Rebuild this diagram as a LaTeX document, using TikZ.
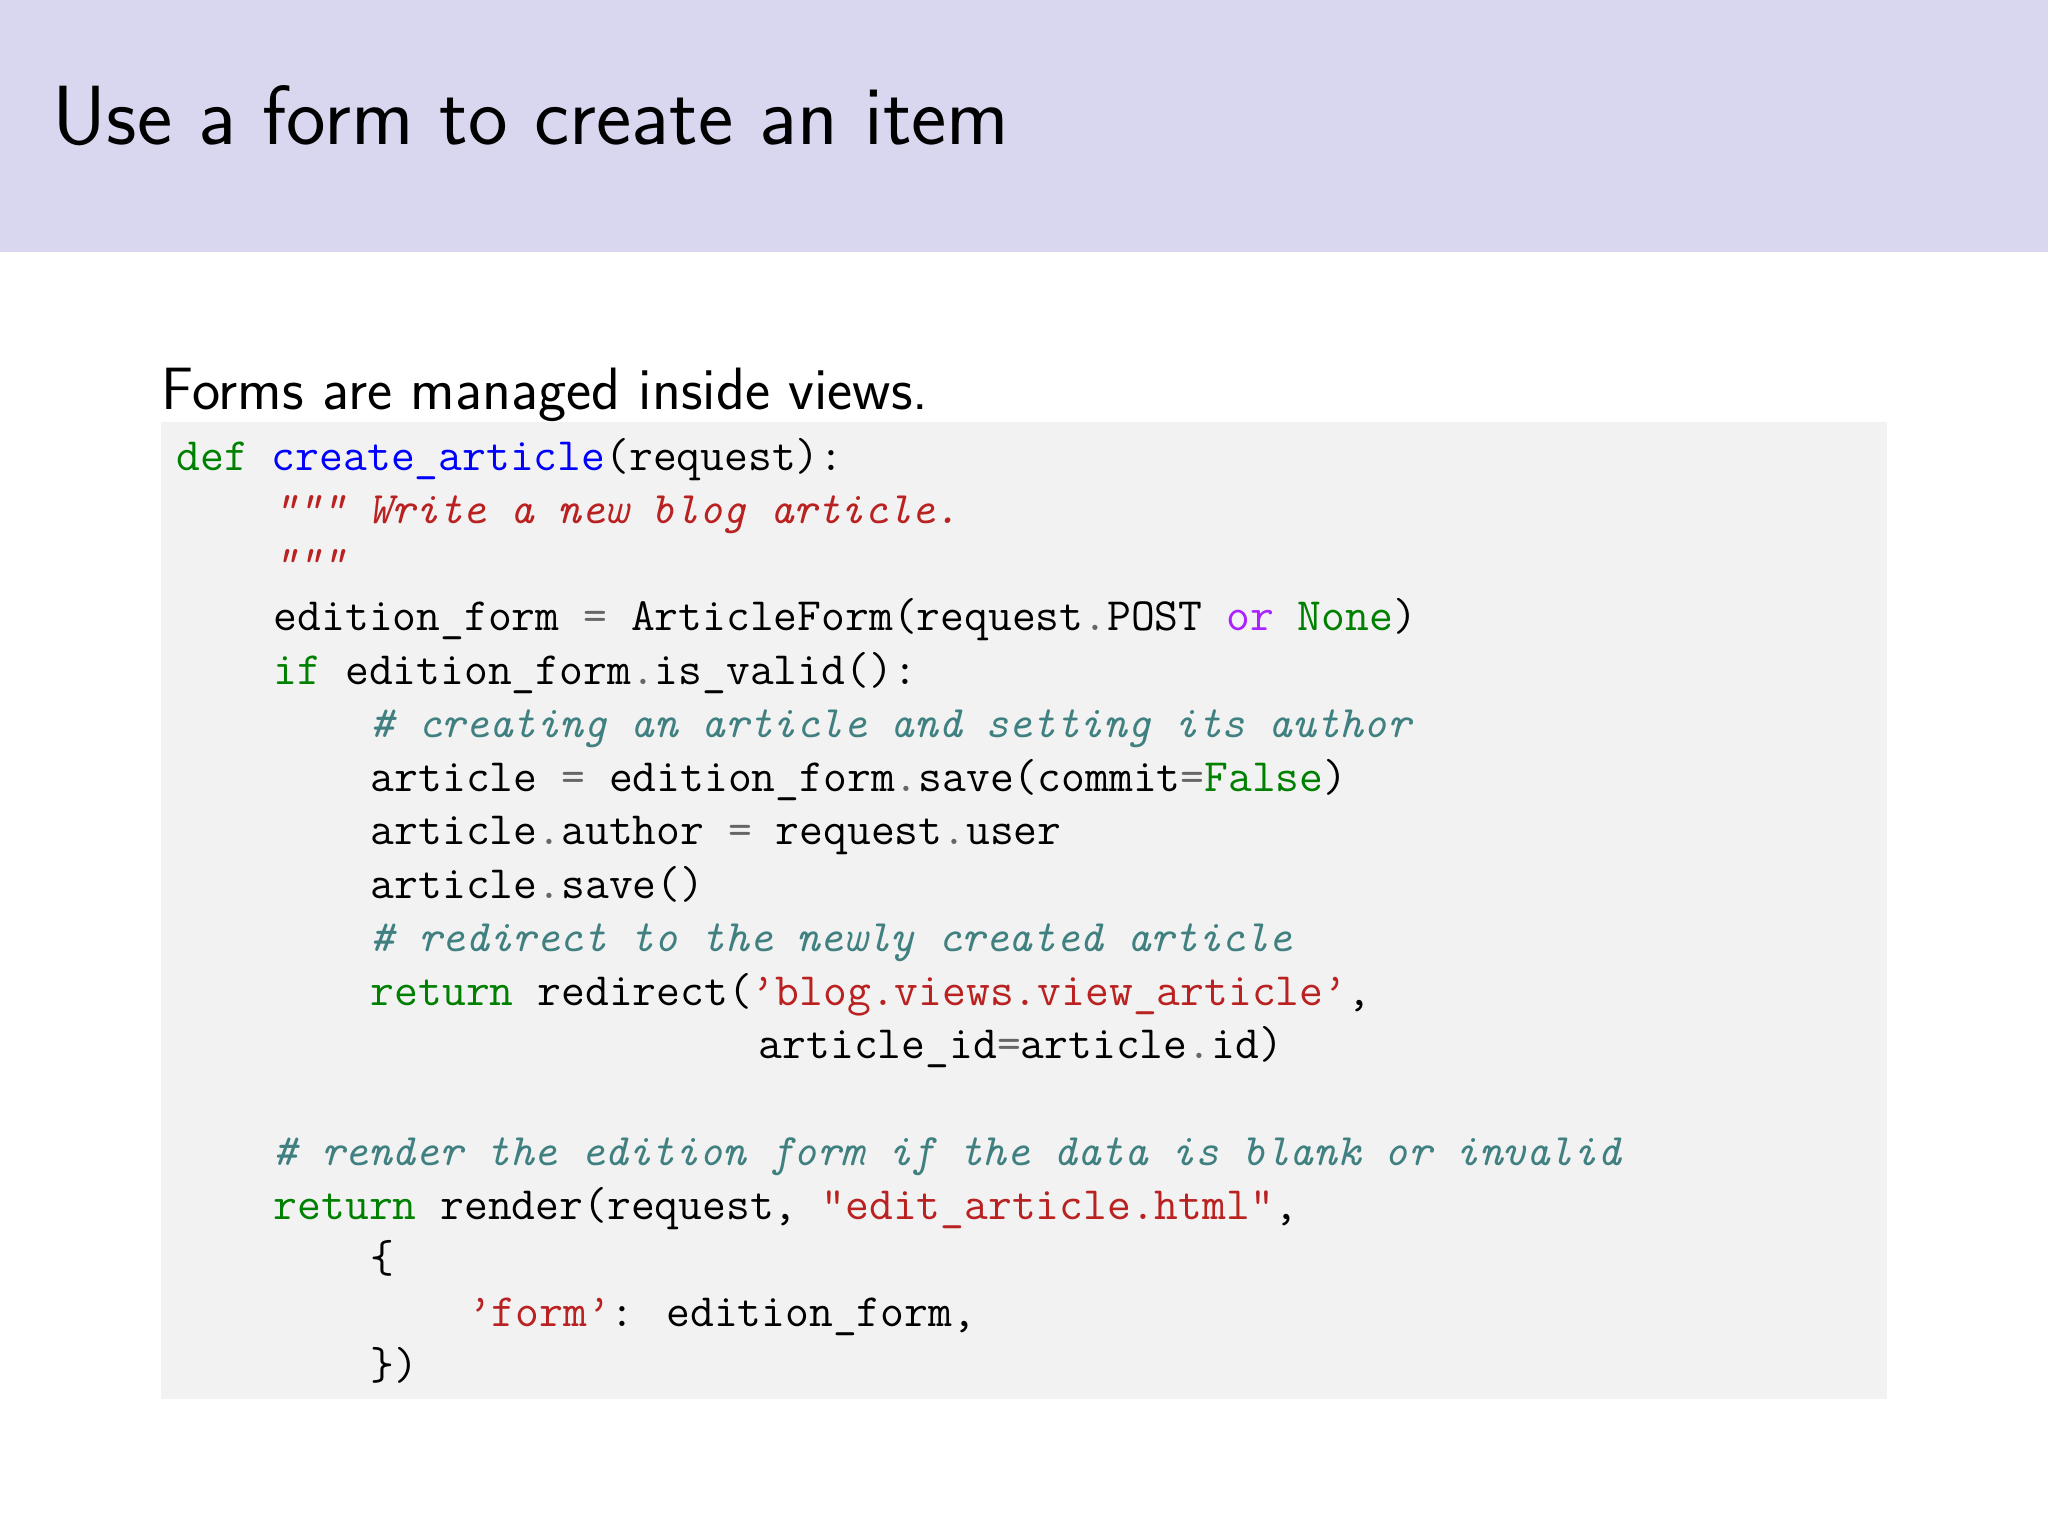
\documentclass[tikz,border=0pt]{standalone}
\usepackage{fontspec}
\definecolor{hdr}{RGB}{217,215,240}
\definecolor{codebg}{RGB}{242,242,242}
\definecolor{kwc}{RGB}{0,128,0}
\definecolor{fnc}{RGB}{0,0,255}
\definecolor{strc}{RGB}{186,33,33}
\definecolor{cmc}{RGB}{64,128,128}
\definecolor{opc}{RGB}{102,102,102}
\definecolor{orc}{RGB}{170,34,255}
\newcommand{\kwx}[1]{\textcolor{kwc}{#1}}
\newcommand{\fnx}[1]{\textcolor{fnc}{#1}}
\newcommand{\strx}[1]{\textcolor{strc}{#1}}
\newcommand{\docx}[1]{\textcolor{strc}{\fontsize{12.8}{15}\selectfont\itshape #1}}
\newcommand{\cmx}[1]{\textcolor{cmc}{\fontsize{12.8}{15}\selectfont\itshape #1}}
\newcommand{\opx}[1]{\textcolor{opc}{#1}}
\newcommand{\rqx}{\textquoteright}
\begin{document}
\begin{tikzpicture}[x=0.01cm,y=-0.01cm,
  codeln/.style={anchor=base west,inner sep=0pt,font=\ttfamily\fontsize{13.15}{15}\selectfont}]
\useasboundingbox (0,0) rectangle (2048,1536);
\fill[white] (0,0) rectangle (2048,1536);
\fill[hdr] (0,0) rectangle (2048,252);
\node[anchor=base west,inner sep=0pt,font=\sffamily\fontsize{23.9}{28}\selectfont] (title) at (52,144) {Use a form to create an item};
\node[anchor=base west,inner sep=0pt,font=\sffamily\fontsize{17}{20}\selectfont] (intro) at (161,409) {Forms are managed inside views.};
\fill[codebg] (161,422) rectangle (1887,1399);
\def\lx{176}
\def\ind{97.1}
\node[codeln] (l1) at (\lx,470) {\kwx{def} \fnx{create\_article}(request):};
\node[codeln] (l2) at (\lx+\ind,523.5) {\docx{"""\ Write a new blog article.}};
\node[codeln] (l3) at (\lx+\ind,577) {\docx{"""}};
\node[codeln] (l4) at (\lx+\ind,630.5) {edition\_form \opx{=} ArticleForm(request\opx{.}POST \textcolor{orc}{or} \kwx{None})};
\node[codeln] (l5) at (\lx+\ind,684) {\kwx{if} edition\_form\opx{.}is\_valid():};
\node[codeln] (l6) at (\lx+2*\ind,737.5) {\cmx{\# creating an article and setting its author}};
\node[codeln] (l7) at (\lx+2*\ind,791) {article \opx{=} edition\_form\opx{.}save(commit\opx{=}\kwx{False})};
\node[codeln] (l8) at (\lx+2*\ind,844.5) {article\opx{.}author \opx{=} request\opx{.}user};
\node[codeln] (l9) at (\lx+2*\ind,898) {article\opx{.}save()};
\node[codeln] (l10) at (\lx+2*\ind,951.5) {\cmx{\# redirect to the newly created article}};
\node[codeln] (l11) at (\lx+2*\ind,1005) {\kwx{return} redirect(\strx{\rqx blog.views.view\_article\rqx},};
\node[codeln] (l12) at (\lx+2*\ind+388,1058.5) {article\_id\opx{=}article\opx{.}id)};
\node[codeln] (l14) at (\lx+\ind,1165.5) {\cmx{\# render the edition form if the data is blank or invalid}};
\node[codeln] (l15) at (\lx+\ind,1219) {\kwx{return} render(request, \strx{"edit\_article.html"},};
\node[codeln] (l16) at (\lx+2*\ind,1272.5) {\{};
\node[codeln] (l17) at (\lx+3*\ind,1326) {\strx{\rqx form\rqx}: edition\_form,};
\node[codeln] (l18) at (\lx+2*\ind,1379.5) {\})};
\end{tikzpicture}
\end{document}
